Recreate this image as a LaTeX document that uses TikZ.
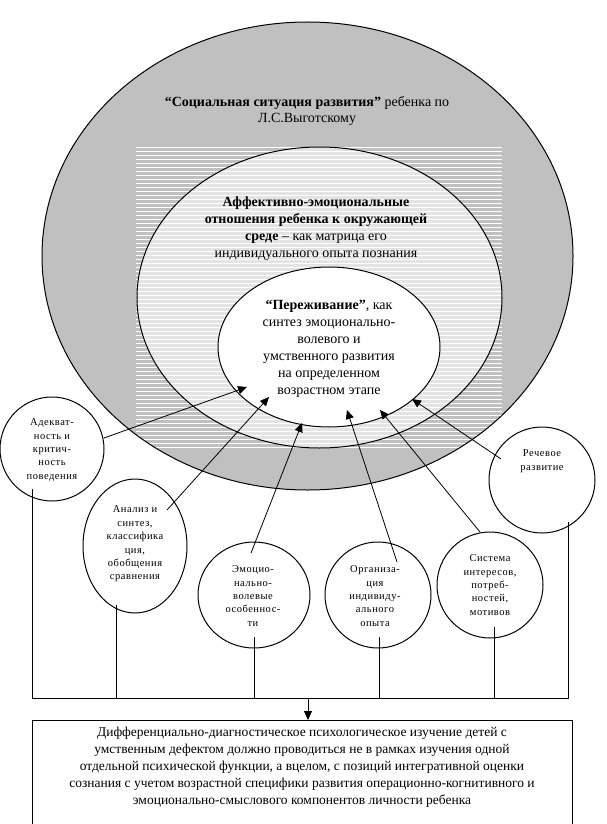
\documentclass[tikz,border=0pt]{standalone}
\usepackage{fontspec}
\setmainfont{Liberation Serif}
\newfontfamily\circfont[LetterSpace=5]{Liberation Serif}
\usetikzlibrary{arrows.meta,shapes.geometric}
\definecolor{bggray}{HTML}{C0C0C0}
\definecolor{midgray}{HTML}{E4E4E4}
\begin{document}
\begin{tikzpicture}[x=1pt,y=-1pt,
  bubble/.style={draw, line width=1pt, ellipse, inner sep=0pt, fill=white},
  ctext/.style={font=\circfont\fontsize{10.5}{13.4}\selectfont, align=center, inner sep=0pt},
  btext/.style={font=\fontsize{14}{17}\selectfont, align=center, inner sep=0pt},
  arr/.style={line width=0.8pt, -{Triangle[length=9pt,width=8pt]}},
  conn/.style={line width=0.8pt}]
\useasboundingbox (0,0) rectangle (607,824);
\fill[white] (0,0) rectangle (607,824);
% outer ellipse
\fill[bggray] (307.5,256) ellipse [x radius=265.5pt, y radius=234pt];
\begin{scope}
  \clip (307.5,256) ellipse [x radius=265.5pt, y radius=234pt];
  \foreach \yy in {147.5,151.5,...,447.5}
    \draw[white, line width=1.3pt] (136,\yy) -- (502,\yy);
\end{scope}
\draw[line width=1pt] (307.5,256) ellipse [x radius=265.5pt, y radius=234pt];
% middle ellipse
\begin{scope}
  \clip (319.5,297.5) ellipse [x radius=182.5pt, y radius=150.5pt];
  \fill[midgray] (136,146) rectangle (502,449);
  \foreach \yy in {147.5,151.5,...,447.5}
    \draw[white, line width=1.6pt] (136,\yy) -- (502,\yy);
\end{scope}
\draw[line width=1pt] (319.5,297.5) ellipse [x radius=182.5pt, y radius=150.5pt];
% inner ellipse
\node[bubble, minimum width=222pt, minimum height=160pt] (inner) at (329,347) {};
% texts
\node[btext] (title) at (307,111) {\textbf{“Социальная ситуация развития”} ребенка по\\Л.С.Выготскому};
\node[btext] (midtext) at (316,229) {\textbf{Аффективно-эмоциональные}\\\textbf{отношения ребенка к окружающей}\\\textbf{среде} – как матрица его\\индивидуального опыта познания};
\node[btext] (intext) at (329,349) {\textbf{“Переживание”}, как\\синтез эмоционально-\\волевого и\\умственного развития\\на определенном\\возрастном этапе};
% circles
\node[bubble, minimum width=104pt, minimum height=104pt] (c1) at (52,449) {};
\node[ctext] (t1) at (52,450) {Адекват-\\ность и\\критич-\\ность\\поведения};
\node[bubble, minimum width=104pt, minimum height=134pt] (c2) at (135,546) {};
\node[ctext] (t2) at (135,544) {Анализ и\\синтез,\\классифика\\ция,\\обобщения\\сравнения};
\node[bubble, minimum width=112pt, minimum height=106pt] (c3) at (254,595) {};
\node[ctext] (t3) at (253,596) {Эмоцио-\\нально-\\волевые\\особеннос-\\ти};
\node[bubble, minimum width=106pt, minimum height=106pt] (c4) at (378,595) {};
\node[ctext] (t4) at (375,596) {Организа-\\ция\\индивиду-\\ального\\опыта};
\node[bubble, minimum width=106pt, minimum height=106pt] (c5) at (490,585) {};
\node[ctext] (t5) at (490,585) {Система\\интересов,\\потреб-\\ностей,\\мотивов};
\node[bubble, minimum width=106pt, minimum height=106pt] (c6) at (542,480) {};
\node[ctext] (t6) at (542,461) {Речевое\\развитие};
% arrow coordinates
\coordinate (s1) at (104,438); \coordinate (e1) at (247,387);
\coordinate (s2) at (167,510); \coordinate (e2) at (269,397);
\coordinate (s3) at (251,553); \coordinate (e3) at (302,423);
\coordinate (s4) at (397,562); \coordinate (e4) at (347,410);
\coordinate (s5) at (480,532); \coordinate (e5) at (380,410);
\coordinate (s6) at (501,459); \coordinate (e6) at (412,399);
\foreach \i in {1,...,6} \draw[arr] (s\i) -- (e\i);
% bottom connectors
\coordinate (hl) at (32,698); \coordinate (hr) at (568,698);
\coordinate (v1) at (32,489); \coordinate (v2) at (116,605);
\coordinate (v3) at (254,637); \coordinate (v4) at (379,637);
\coordinate (v5) at (494,627); \coordinate (v6) at (568,522);
\draw[conn] (v1) -- (hl) -- (hr) -- (v6);
\foreach \i in {2,...,5} \draw[conn] (v\i) -- (v\i |- hl);
% bottom box
\node[draw, line width=1pt, minimum width=540pt, minimum height=112pt, inner sep=0pt, anchor=north] (box) at (302,720) {};
\coordinate (ha) at (308,698);
\draw[arr] (ha) -- (ha |- box.north);
\node[font=\fontsize{13.5}{17}\selectfont, align=center, inner sep=0pt] (boxtext) at (302,767) {Дифференциально-диагностическое психологическое изучение детей с\\умственным дефектом должно проводиться не в рамках изучения одной\\отдельной психической функции, а вцелом, с позиций интегративной оценки\\сознания с учетом возрастной специфики развития операционно-когнитивного и\\эмоционально-смыслового компонентов личности ребенка};
\end{tikzpicture}
\end{document}
